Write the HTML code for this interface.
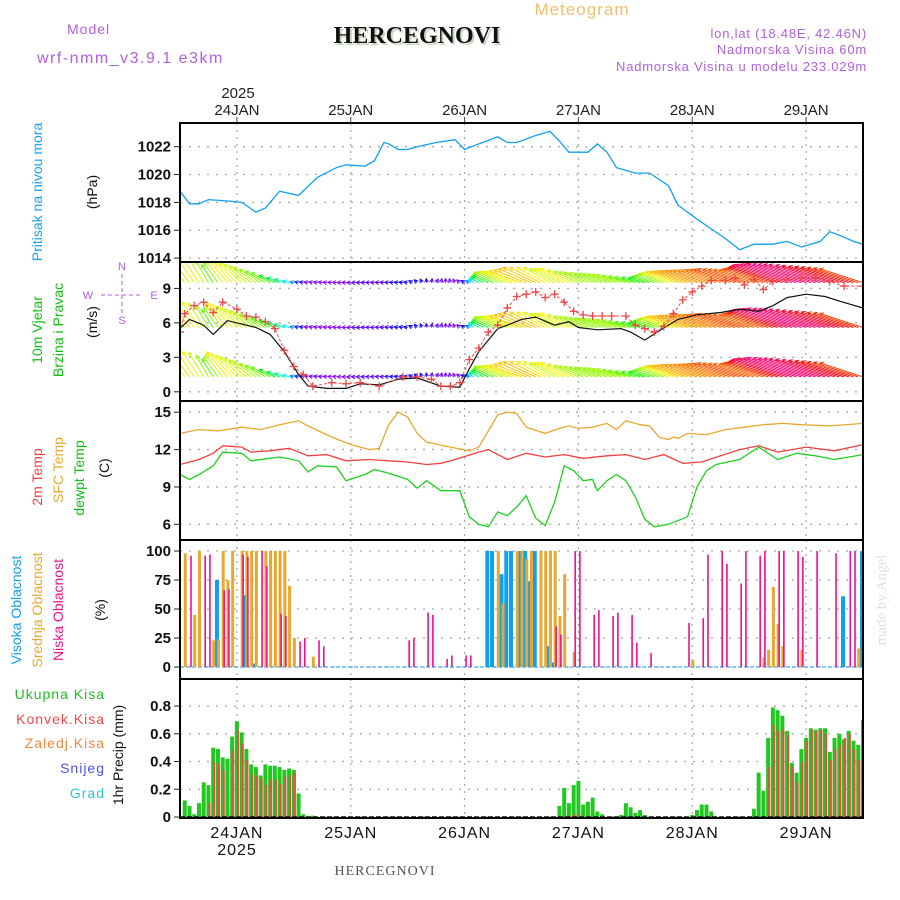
<!DOCTYPE html>
<html><head><meta charset="utf-8"><title>Meteogram HERCEGNOVI</title>
<style>
body{margin:0;background:#fff;}
svg{display:block;font-family:"Liberation Sans",sans-serif;}
</style></head>
<body>
<svg id="chart" width="900" height="900" viewBox="0 0 900 900" xmlns="http://www.w3.org/2000/svg">
<rect width="900" height="900" fill="#fff"/>
<g>
<text x="582" y="15" font-size="17" fill="#f0c070" text-anchor="middle" letter-spacing="1">Meteogram</text>
<text x="67" y="34" font-size="14" fill="#b060e0" letter-spacing="1">Model</text>
<text x="37" y="63" font-size="16" fill="#b060e0" letter-spacing="1.5">wrf-nmm_v3.9.1 e3km</text>
<text x="419" y="45" font-family="Liberation Serif,serif" font-weight="bold" font-size="24" fill="#c8d8c0" text-anchor="middle">HERCEGNOVI</text>
<text x="417" y="43" font-family="Liberation Serif,serif" font-weight="bold" font-size="24" fill="#111" text-anchor="middle">HERCEGNOVI</text>
<text x="867" y="38" font-size="13" fill="#b060e0" text-anchor="end" letter-spacing="0.8">lon,lat (18.48E, 42.46N)</text>
<text x="867" y="54" font-size="13" fill="#b060e0" text-anchor="end" letter-spacing="0.8">Nadmorska Visina 60m</text>
<text x="867" y="71" font-size="13" fill="#b060e0" text-anchor="end" letter-spacing="0.8">Nadmorska Visina u modelu 233.029m</text>
<text x="238" y="98" font-size="15" fill="#222" text-anchor="middle">2025</text>
<text x="237" y="855" font-size="16" fill="#111" text-anchor="middle" letter-spacing="1">2025</text>
<text x="385" y="875" font-family="Liberation Serif,serif" font-size="14" fill="#555" text-anchor="middle" letter-spacing="1">HERCEGNOVI</text>
<text transform="translate(886,600) rotate(-90)" font-family="Liberation Serif,serif" font-size="15" fill="#dde3dd" text-anchor="middle">made by Angel</text>
</g>
<g font-size="14">
<text transform="translate(42,192) rotate(-90)" fill="#1aa0f0" text-anchor="middle">Pritisak na nivou mora</text>
<text transform="translate(97,192) rotate(-90)" fill="#111" text-anchor="middle">(hPa)</text>
<text transform="translate(42,330) rotate(-90)" fill="#10c010" text-anchor="middle">10m Vjetar</text>
<text transform="translate(63,330) rotate(-90)" fill="#10c010" text-anchor="middle">Brzina i Pravac</text>
<text transform="translate(97,322) rotate(-90)" fill="#111" text-anchor="middle">(m/s)</text>
<text transform="translate(42,477) rotate(-90)" fill="#f04040" text-anchor="middle">2m Temp</text>
<text transform="translate(63,470) rotate(-90)" fill="#e8a830" text-anchor="middle">SFC Temp</text>
<text transform="translate(84,478) rotate(-90)" fill="#10c010" text-anchor="middle">dewpt Temp</text>
<text transform="translate(109,468) rotate(-90)" fill="#111" text-anchor="middle">(C)</text>
<text transform="translate(21,610) rotate(-90)" fill="#10a0f0" text-anchor="middle">Visoka Oblacnost</text>
<text transform="translate(42,610) rotate(-90)" fill="#e8a830" text-anchor="middle">Srednja Oblacnost</text>
<text transform="translate(63,610) rotate(-90)" fill="#f0108a" text-anchor="middle">Niska Oblacnost</text>
<text transform="translate(105,610) rotate(-90)" fill="#111" text-anchor="middle">(%)</text>
<text transform="translate(123,755) rotate(-90)" fill="#111" text-anchor="middle">1hr Precip (mm)</text>
<g text-anchor="end" letter-spacing="1">
<text x="105" y="699" fill="#20c020">Ukupna Kisa</text>
<text x="105" y="724" fill="#f04848">Konvek.Kisa</text>
<text x="105" y="748" fill="#f08840">Zaledj.Kisa</text>
<text x="105" y="773" fill="#5050f0">Snijeg</text>
<text x="105" y="798" fill="#30c8d0">Grad</text>
</g>
<g fill="#b060e0" stroke="#b060e0" font-size="11" text-anchor="middle">
<text x="122" y="270" stroke="none">N</text><text x="122" y="324" stroke="none">S</text>
<text x="88" y="299" stroke="none">W</text><text x="154" y="299" stroke="none">E</text>
<line x1="101" y1="295" x2="143" y2="295" stroke-dasharray="4,3" stroke-width="1"/>
<line x1="122" y1="274" x2="122" y2="314" stroke-dasharray="4,3" stroke-width="1"/>
</g>
</g>
<g id="plots"></g>
</svg>
<script>
// ---------- data ----------
const dayLabels = ["24JAN","25JAN","26JAN","27JAN","28JAN","29JAN"];
const dayHours = [0,24,48,72,96,120];
const pressHours = [-12,-10,-8,-6,-2,1,4,6,9,13,17,21,23,27,29,31,32,34,36,38,42,46,48,51,55,57,59,63,66,68,70,74,76,78,80,84,87,91,93,97,100,103,106,109,113,116,119,123,125,128,130,132];
const pressVals = [1018.8,1017.9,1017.9,1018.2,1018.1,1018,1017.3,1017.6,1018.8,1018.5,1019.8,1020.5,1020.7,1020.6,1021,1022.3,1022.2,1021.8,1021.8,1022,1022.3,1022.5,1021.8,1022.2,1022.7,1022.3,1022.3,1022.8,1023.1,1022.4,1021.6,1021.6,1022.2,1021.6,1020.5,1020.1,1020.1,1019.2,1017.8,1016.8,1016.1,1015.4,1014.6,1015,1015,1015.2,1014.8,1015.2,1015.9,1015.5,1015.2,1015];
const gustHours = [-12,-11,-9,-7,-5,-3,0,2,4,6,8,10,12,14,16,20,23,26,30,35,38,41,43,45,47,49,51,53,55,57,59,61,63,65,67,69,71,73,75,77,79,82,84,86,88,90,92,94,96,98,100,103,105,107,109,111,113,116,119,122,125,128,132];
const gustVals = [5.2,6.8,7.5,7.8,6.9,7.8,7.2,6.6,6.5,6.1,5.5,3.6,2.2,1.5,0.5,0.8,0.7,0.8,0.5,1.3,1.3,1.1,0.5,0.5,0.8,2.8,3.8,5.2,5.8,7.3,8.3,8.5,8.7,8.2,8.5,7.8,7.0,6.7,6.6,6.6,6.6,6.6,5.8,5.5,5.2,5.7,6.8,8.0,8.7,9.2,9.7,9.7,9.9,9.3,9.8,8.9,9.6,9.8,9.9,9.9,9.6,9.2,9.2];
const speedHours = [-12,-10,-7,-5,-2,0,4,7,10,13,15,19,23,26,30,34,38,43,47,49,51,53,55,57,60,63,67,70,72,76,81,83,86,89,93,97,102,106,110,113,116,120,124,127,132];
const speedVals = [5.5,6.3,5.8,5.0,6.2,6.0,5.6,5.0,3.5,1.5,0.5,0.3,0.3,0.7,0.6,1.1,1.2,0.5,0.4,2.0,3.5,4.5,5.5,5.8,6.3,6.5,5.8,6.1,5.6,5.4,5.5,5.2,4.5,5.3,6.3,6.7,6.9,7.2,7.0,7.5,8.2,8.5,8.3,7.9,7.3];
const dirHours = [-12,-6,0,6,12,18,24,30,36,42,48,54,60,66,72,78,84,90,96,102,108,114,120,126,132];
const dirVals = [130,120,135,150,165,170,180,175,170,60,150,155,160,150,155,160,165,160,162,162,162,162,162,162,162];
const tempHours = [-12,-10,-8,-5,-3,1,3,7,11,15,19,23,28,32,36,40,43,46,51,53,55,57,61,65,69,73,78,82,86,90,94,98,102,106,110,114,120,126,132];
const t2mVals = [10.8,11.0,11.2,11.7,12.3,12.2,11.8,11.9,12.1,11.5,11.6,11.1,11.2,11.1,11.0,10.8,10.9,11.2,11.8,12.0,11.6,11.2,11.7,11.4,11.6,11.3,11.5,11.6,11.2,11.6,10.9,11.0,11.5,12.0,12.3,11.8,12.2,11.9,12.4];
const sfcHours = [-12,-8,-4,1,5,9,13,15,20,24,28,30,32,34,36,38,40,45,49,51,53,55,57,59,61,65,68,70,72,75,78,80,82,85,87,89,91,92,93,95,99,103,107,111,115,119,125,132];
const sfcVals = [13.3,13.6,13.5,13.8,13.6,14.0,14.3,13.9,13.0,12.4,12.0,12.1,14.0,15.0,14.6,13.3,12.6,12.2,11.9,12.2,13.5,14.8,15.0,14.9,13.8,13.3,13.7,13.9,13.7,13.8,14.1,13.6,14.3,14.0,13.9,13.0,12.8,13.0,12.9,13.3,13.2,13.6,13.8,14.0,14.1,14.0,13.9,14.1];
const dewHours = [-12,-10,-8,-5,-3,1,3,7,9,13,15,17,21,23,27,29,32,36,38,40,43,47,49,51,53,55,57,59,61,63,65,67,69,71,73,75,76,78,80,82,84,86,88,91,95,97,99,101,106,110,114,118,122,126,132];
const dewVals = [10.0,9.6,10.0,10.7,11.8,11.7,11.1,11.3,11.4,11.1,10.2,10.7,10.6,9.5,10.0,10.4,10.1,9.6,8.9,9.5,8.7,8.7,6.6,6.0,5.8,7.0,6.7,7.4,8.3,6.5,5.9,7.8,10.7,10.3,9.5,9.6,8.7,9.5,10.0,9.5,8.2,6.4,5.8,6.0,6.6,9.0,10.3,10.8,11.2,12.2,11.2,11.7,11.5,11.2,11.6];
const highCloudHours = [-4,2,4,53,54,56,57,58,60,61,62,63,66,67,128,132];
const highCloudVals = [75,62,3,100,100,80,100,100,100,100,74,100,18,4,61,100];
const midCloudHours = [-11,-9,-8,-5,-4,-3,-2,-1,1,2,3,4,6,7,8,9,10,11,12,16,55,56,59,60,61,62,64,65,66,67,68,69,71,96,111,112,113,114,115,119,131];
const midCloudVals = [98,45,100,23,24,100,75,100,100,100,100,100,100,100,100,100,100,70,25,9,100,55,100,100,93,100,100,100,100,100,44,80,13,6,8,15,69,37,18,15,16];
const lowCloudHours = [-10,-7,-6,-3,-2,1,2,5,6,9,10,13,14,17,18,36,37,40,41,44,45,48,49,67,68,71,72,75,76,79,80,83,84,87,95,98,99,102,103,106,107,110,111,114,115,118,119,122,126,129,130];
const lowCloudVals = [96,96,97,66,67,97,95,100,87,46,44,22,25,23,18,23,25,47,45,7,10,10,10,35,28,100,100,45,49,44,47,45,21,12,38,42,97,100,89,72,100,96,100,100,100,100,95,100,98,100,100];
const precipHours = [-11,-10,-9,-8,-7,-6,-5,-4,-3,-2,-1,0,1,2,3,4,5,6,7,8,9,10,11,12,13,14,16,68,69,70,71,72,73,74,75,76,77,81,82,83,84,85,86,96,97,98,99,100,109,110,111,112,113,114,115,116,117,118,119,120,121,122,123,124,125,126,127,128,129,130,131,132];
const totalPrecip = [0.12,0.08,0.02,0.1,0.25,0.23,0.5,0.49,0.43,0.42,0.58,0.69,0.61,0.49,0.38,0.36,0.3,0.38,0.37,0.37,0.36,0.34,0.35,0.34,0.17,0.02,0.01,0.08,0.21,0.10,0.23,0.26,0.09,0.11,0.14,0.04,0.02,0.015,0.10,0.07,0.03,0.05,0.015,0.015,0.05,0.09,0.09,0.04,0.06,0.32,0.19,0.57,0.79,0.77,0.73,0.62,0.39,0.32,0.49,0.57,0.64,0.63,0.64,0.64,0.47,0.57,0.60,0.56,0.62,0.55,0.52,0.70];
const convPrecip = [0,0,0,0,0,0.1,0.40,0.38,0.34,0,0.48,0.63,0.53,0.41,0.31,0.30,0.28,0.23,0.27,0.27,0.24,0.29,0.30,0.32,0,0,0,0,0,0.01,0.02,0.02,0,0,0,0,0,0,0,0,0,0,0,0,0,0,0,0,0,0,0,0.36,0.66,0.62,0.63,0.59,0.36,0.25,0.40,0.55,0.63,0.62,0.63,0.60,0.41,0.49,0.52,0.57,0.60,0.49,0.41,0.52];

// ---------- layout ----------
const NS="http://www.w3.org/2000/svg";
const root=document.getElementById('plots');
const X0=180,X1=863,H0=-12,H1=132;
const xs=h=>X0+(h-H0)*(X1-X0)/(H1-H0);
function mk(tag,attrs,parent){const e=document.createElementNS(NS,tag);for(const k in attrs)e.setAttribute(k,attrs[k]);(parent||root).appendChild(e);return e;}
function yScale(top,bot,vTop,vBot){return v=>top+(vTop-v)*(bot-top)/(vTop-vBot);}
const panels=[
 {name:'pressure',top:123,bot:262,vTop:1023.7,vBot:1013.72,ticks:[1014,1016,1018,1020,1022],fmt:v=>String(v)},
 {name:'wind',top:262,bot:401,vTop:11.3,vBot:-0.8,ticks:[0,3,6,9],fmt:v=>String(v)},
 {name:'temperature',top:401,bot:540,vTop:15.9,vBot:4.74,ticks:[6,9,12,15],fmt:v=>String(v)},
 {name:'cloud',top:540,bot:679,vTop:109.5,vBot:-10.3,ticks:[0,25,50,75,100],fmt:v=>String(v)},
 {name:'precip',top:679,bot:818,vTop:0.995,vBot:-0.007,ticks:[0,0.2,0.4,0.6,0.8],fmt:v=>v===0?'0':v.toFixed(1)}
];
panels.forEach(p=>{p.y=yScale(p.top,p.bot,p.vTop,p.vBot);});
function interp(hs,vs,h){if(h<=hs[0])return vs[0];for(let i=1;i<hs.length;i++){if(h<=hs[i]){const t=(h-hs[i-1])/(hs[i]-hs[i-1]);return vs[i-1]+t*(vs[i]-vs[i-1]);}}return vs[vs.length-1];}
function path(hs,vs,ys){return hs.map((h,i)=>(i?'L':'M')+xs(h).toFixed(1)+','+ys(vs[i]).toFixed(1)).join(' ');}

// grid, ticks
panels.forEach(p=>{
 const g=mk('g',{});
 
 
 dayHours.forEach(h=>{const l=mk('line',{x1:xs(h),x2:xs(h),y1:p.top,y2:p.bot,stroke:'#aaa','stroke-width':1.3,'stroke-dasharray':'2,5'},g);
  });
 p.ticks.forEach(v=>{const y=p.y(v);
  const l=mk('line',{x1:X0,x2:X1,y1:y,y2:y,stroke:'#aaa','stroke-width':1.3,'stroke-dasharray':'2,7'},g);
  
  mk('line',{x1:X0-6,x2:X0,y1:y,y2:y,stroke:'#222','stroke-width':1},g);
  const t=mk('text',{x:X0-9,y:y+5,'font-size':15,fill:'#111','text-anchor':'end','font-weight':'bold'},g);
  t.textContent=p.fmt(v);
  
 });
});

// day labels
dayHours.forEach((h,i)=>{
 const t=mk('text',{x:xs(h),y:115,'font-size':15,fill:'#222','text-anchor':'middle'});t.textContent=dayLabels[i];
 
 const b=mk('text',{x:xs(h),y:838,'font-size':16,fill:'#111','text-anchor':'middle','letter-spacing':1});b.textContent=dayLabels[i];
 
 mk('line',{x1:xs(h),x2:xs(h),y1:117,y2:123,stroke:'#444'});
});

const clip=mk('clipPath',{id:'plotclip'});mk('rect',{x:X0,y:123,width:X1-X0,height:695},clip);
const wclip=mk('clipPath',{id:'windclip'});mk('rect',{x:X0,y:262,width:X1-X0,height:139},wclip);
const data=mk('g',{'clip-path':'url(#plotclip)'});



// pressure
const P=panels[0];
const pl=mk('path',{d:path(pressHours,pressVals,P.y),fill:'none',stroke:'#10a0f0','stroke-width':1.3},data);


// wind arrows
const W=panels[1];
const windG=mk('g',{'stroke-width':1,'clip-path':'url(#windclip)'},data);

const rows=[9.5,5.6,1.3];
function spColor(s){let h=285-37*s;if(h<0)h+=360;return 'hsl('+h.toFixed(0)+',95%,50%)';}
rows.forEach(rv=>{
 for(let h=H0;h<=H1;h+=1){
  const s=interp(speedHours,speedVals,h),a=interp(dirHours,dirVals,h)*Math.PI/180;
  const L=Math.max(4,0.85*s*s),x=xs(h),y=W.y(rv);
  const x2=x+L*Math.cos(a),y2=y-L*Math.sin(a);
  const c=spColor(s);
  const ln=mk('line',{x1:x,y1:y,x2:x2,y2:y2,stroke:c},windG);
  
  const ang=Math.atan2(y2-y,x2-x);
  const hx1=x2-4*Math.cos(ang-0.5),hy1=y2-4*Math.sin(ang-0.5),hx2=x2-4*Math.cos(ang+0.5),hy2=y2-4*Math.sin(ang+0.5);
  mk('path',{d:`M${hx1},${hy1}L${x2},${y2}L${hx2},${hy2}`,fill:'none',stroke:c},windG);
 }
});
const sl=mk('path',{d:path(speedHours,speedVals,W.y),fill:'none',stroke:'#111','stroke-width':1.2},data);

const gl=mk('path',{d:path(gustHours,gustVals,W.y),fill:'none',stroke:'#f04848','stroke-width':1,'stroke-dasharray':'3,2'},data);

gustHours.forEach((h,i)=>{const x=xs(h),y=W.y(gustVals[i]);
 const m=mk('path',{d:`M${x-4},${y}H${x+4}M${x},${y-4}V${y+4}`,stroke:'#f04848','stroke-width':1.3},data);
 });

// temperature
const T=panels[2];
[[sfcHours,sfcVals,'#e8a830','sfc-temp-line'],[tempHours,t2mVals,'#f04040','temp-2m-line'],[dewHours,dewVals,'#20d020','dewpoint-line']].forEach(s=>{
 const e=mk('path',{d:path(s[0],s[1],T.y),fill:'none',stroke:s[2],'stroke-width':1.3},data);
 });

// clouds
const C=panels[3];
mk('line',{x1:X0,x2:X1,y1:C.y(0),y2:C.y(0),stroke:'#60b8f0','stroke-width':1.5,'stroke-dasharray':'4,2'},data);
[[highCloudHours,highCloudVals,'#10a0f0',4,-1,'high-cloud-bar'],[midCloudHours,midCloudVals,'#e8a830',3,0.5,'mid-cloud-bar'],[lowCloudHours,lowCloudVals,'#f0108a',1.6,1.5,'low-cloud-bar']].forEach(s=>{
 s[0].forEach((h,i)=>{const y=C.y(s[1][i]),y0=C.y(0);
  const r=mk('rect',{x:xs(h)+s[4]-s[3]/2,y:y,width:s[3],height:y0-y,fill:s[2]},data);
  });
});

// precip
const R=panels[4];
precipHours.forEach((h,i)=>{const y0=R.y(0);
 const yt=R.y(totalPrecip[i]);
 const g=mk('rect',{x:xs(h)-2,y:yt,width:4,height:y0-yt,fill:'#20c820'},data);
 
 if(convPrecip[i]>0){const yc=R.y(convPrecip[i]);
  const c=mk('rect',{x:xs(h),y:yc,width:2,height:y0-yc,fill:'#f04848'},data);
  }
});
mk('line',{x1:X0,x2:X1,y1:R.y(0),y2:R.y(0),stroke:'#111','stroke-width':1.5,'stroke-dasharray':'5,2'},data);

// frames
panels.forEach(p=>{const r=mk('rect',{x:X0,y:p.top,width:X1-X0,height:p.bot-p.top,fill:'none',stroke:'#000','stroke-width':2});
 });
</script>
</body></html>
